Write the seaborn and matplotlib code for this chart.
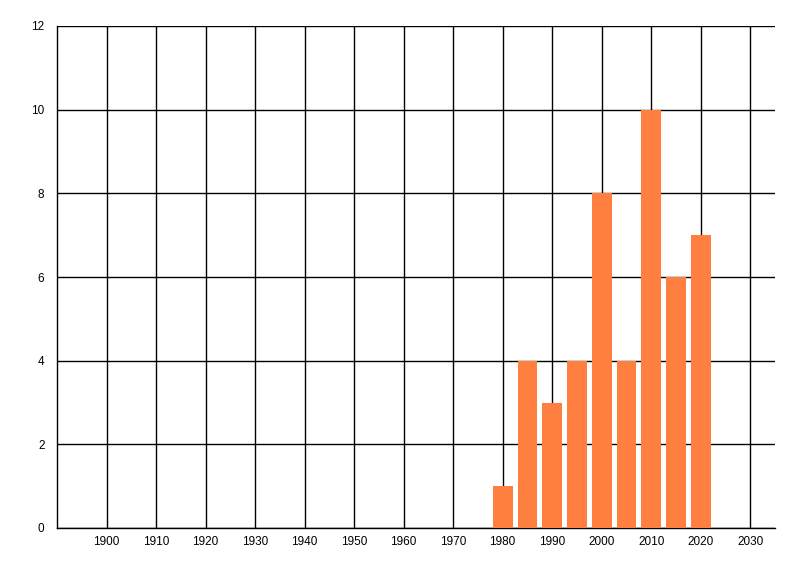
import matplotlib
matplotlib.use("Agg")
import matplotlib.pyplot as plt
import seaborn as sns
import pandas as pd

years = [1980, 1985, 1990, 1995, 2000, 2005, 2010, 2015, 2020]
counts = [1, 4, 3, 4, 8, 4, 10, 6, 7]
x_ticks = list(range(1900, 2031, 10))
y_ticks = [0, 2, 4, 6, 8, 10, 12]

sns.set_style("white")
plt.rcParams['font.family'] = ['Liberation Sans', 'DejaVu Sans']

df = pd.DataFrame({"year": years, "count": counts})

fig = plt.figure(figsize=(8, 5.76), dpi=100)
ax = fig.add_axes([57/800, 48/576, (775-57)/800, (528-26)/576])

sns.barplot(data=df, x="year", y="count", native_scale=True, width=0.8,
            color="#FF7F40", saturation=1, ax=ax, zorder=3, errorbar=None,
            linewidth=0, edgecolor="none")

ax.set_xlim(1890, 2035)
ax.set_ylim(0, 12)
ax.set_xticks(x_ticks)
ax.set_xticklabels([str(t) for t in x_ticks])
ax.set_yticks(y_ticks)
ax.set_yticklabels([str(t) for t in y_ticks])
ax.grid(True, color="black", linewidth=1)
ax.set_axisbelow(True)
for s in ["top", "right"]:
    ax.spines[s].set_visible(False)
for s in ["left", "bottom"]:
    ax.spines[s].set_color("black")
    ax.spines[s].set_linewidth(1)
ax.tick_params(axis="y", length=7, width=1, color="black", labelsize=8.5,
               pad=2, labelcolor="black")
ax.tick_params(axis="x", length=0, labelsize=8.5, pad=6, labelcolor="black")
ax.set_xlabel("")
ax.set_ylabel("")

fig.savefig("out.png", dpi=100)
